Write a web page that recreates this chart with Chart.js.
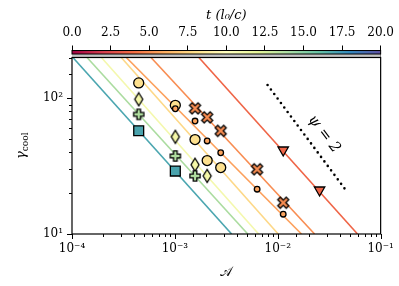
<!DOCTYPE html>
<html>
<head>
<meta charset="utf-8">
<script src="https://cdn.jsdelivr.net/npm/chart.js@4.4.1/dist/chart.umd.min.js"></script>
<style>
  html, body { margin: 0; padding: 0; background: #fff; }
  #wrap { width: 399px; height: 286px; }
</style>
</head>
<body>
<div id="wrap"><canvas id="coolChart" width="399" height="286"></canvas></div>
<script>
// colour bar ticks (time) and axis decades
const tTicks = [0, 2.5, 5, 7.5, 10, 12.5, 15, 17.5, 20];
const xDecades = [1e-4, 1e-3, 1e-2, 1e-1];
const yDecades = [10, 100];

// guide lines: A where each line meets gamma = 200 (top) and gamma = 10 (bottom)
const lineGamma = [200, 10];
const lineTeal   = [1.02e-4, 3.56e-3];
const lineGreen  = [1.40e-4, 5.11e-3];
const linePale   = [1.93e-4, 6.52e-3];
const lineYellow = [3.01e-4, 1.01e-2];
const lineOrangeA = [3.37e-4, 1.70e-2];
const lineOrangeB = [5.86e-4, 2.28e-2];
const lineRed    = [1.71e-3, 5.96e-2];

// psi = 2 reference
const psiA = [7.96e-3, 4.53e-2];
const psiG = [125.4, 21.3];

// simulation points
const squareA = [4.45e-4, 1.01e-3];
const squareG = [57.7, 29.1];
const plusA = [4.45e-4, 1.01e-3, 1.57e-3];
const plusG = [76.2, 37.6, 26.8];
const diamondA = [4.45e-4, 1.01e-3, 1.57e-3, 2.06e-3];
const diamondG = [98.4, 52.1, 32.4, 26.8];
const bigCircA = [4.45e-4, 1.01e-3, 1.57e-3, 2.06e-3, 2.79e-3];
const bigCircG = [130, 88.8, 49.7, 34.8, 30.9];
const smallCircA = [1.01e-3, 1.57e-3, 2.06e-3, 2.79e-3, 6.3e-3, 1.13e-2];
const smallCircG = [83.8, 68.0, 48.5, 39.7, 21.4, 14.0];
const xMarkA = [1.57e-3, 2.06e-3, 2.79e-3, 6.3e-3, 1.13e-2];
const xMarkG = [84.4, 72.4, 57.6, 30.0, 17.0];
const triA = [1.13e-2, 2.55e-2];
const triG = [41.6, 21.1];

const SERIF = "'DejaVu Serif', serif";
const spectral = ['#9e0142', '#d53e4f', '#f46d43', '#fdae61', '#fee08b', '#ffffbf',
                  '#e6f598', '#abdda4', '#66c2a5', '#3288bd', '#5e4fa2'];

function pts(xs, ys) {
    return xs.map((x, i) => ({ x: x, y: ys[i] }));
}

function sup(n) {
    const m = { '-': '\u207b', '0': '\u2070', '1': '\u00b9', '2': '\u00b2', '3': '\u00b3',
                '4': '\u2074', '5': '\u2075', '6': '\u2076', '7': '\u2077', '8': '\u2078', '9': '\u2079' };
    return String(n).split('').map(ch => m[ch]).join('');
}

function isDecade(v) {
    const l = Math.log10(v);
    return Math.abs(l - Math.round(l)) < 1e-6;
}

// custom marker shapes (matplotlib P, X, d)
function markerCanvas(size, fill, pathFn) {
    const c = document.createElement('canvas');
    c.width = size; c.height = size;
    const ctx = c.getContext('2d');
    ctx.translate(size / 2, size / 2);
    ctx.beginPath();
    pathFn(ctx);
    ctx.closePath();
    ctx.fillStyle = fill;
    ctx.fill();
    ctx.lineWidth = 1.3;
    ctx.strokeStyle = '#000';
    ctx.stroke();
    return c;
}

function plusPath(s, a, rot) {
    return function(ctx) {
        ctx.rotate(rot);
        const p = [[-a, -s], [a, -s], [a, -a], [s, -a], [s, a], [a, a], [a, s], [-a, s], [-a, a], [-s, a], [-s, -a], [-a, -a]];
        p.forEach((q, i) => i ? ctx.lineTo(q[0], q[1]) : ctx.moveTo(q[0], q[1]));
    };
}

const plusImg = markerCanvas(14, '#b0dea0', plusPath(5.1, 1.8, 0));
const xImg = markerCanvas(15, '#f88d52', plusPath(6.0, 1.8, Math.PI / 4));
const diamondImg = markerCanvas(16, '#f5f7a8', function(ctx) {
    ctx.moveTo(0, -6.5); ctx.lineTo(4, 0); ctx.lineTo(0, 6.5); ctx.lineTo(-4, 0);
});

function guide(data, color) {
    return {
        data: pts(data, lineGamma), showLine: true, borderColor: color, borderWidth: 1.6,
        pointRadius: 0, order: 5
    };
}

function markers(xs, ys, style, fill, r, order) {
    return {
        data: pts(xs, ys), showLine: false, pointStyle: style, pointRadius: r,
        pointBackgroundColor: fill, pointBorderColor: '#000', pointBorderWidth: 1.3,
        order: order
    };
}

const extras = {
    id: 'extras',
    afterDraw(chart) {
        const ctx = chart.ctx;
        const a = chart.chartArea;
        const sx = chart.scales.x, sy = chart.scales.y;
        ctx.save();
        ctx.strokeStyle = '#000';
        ctx.lineWidth = 1;
        // minor / major ticks
        sx.ticks.forEach(t => {
            const px = Math.round(sx.getPixelForValue(t.value)) + 0.5;
            const len = isDecade(t.value) ? 5 : 3;
            ctx.beginPath(); ctx.moveTo(px, a.bottom); ctx.lineTo(px, a.bottom + len); ctx.stroke();
        });
        sy.ticks.forEach(t => {
            const py = Math.round(sy.getPixelForValue(t.value)) + 0.5;
            const len = isDecade(t.value) ? 5 : 3;
            ctx.beginPath(); ctx.moveTo(a.left, py); ctx.lineTo(a.left - len, py); ctx.stroke();
        });
        // colour bar
        const g = ctx.createLinearGradient(a.left, 0, a.right, 0);
        spectral.forEach((c, i) => g.addColorStop(i / (spectral.length - 1), c));
        ctx.fillStyle = '#c4c4c4';
        ctx.fillRect(a.left, 50.5, a.right - a.left, 6.5);
        ctx.fillStyle = g;
        ctx.fillRect(a.left, 50.5, a.right - a.left, 3.5);
        ctx.strokeRect(a.left, 50.5, a.right - a.left, 3.5);
        // frame
        ctx.lineWidth = 1.2;
        ctx.strokeRect(a.left, a.top, a.right - a.left, a.bottom - a.top);
        // y label
        ctx.fillStyle = '#000';
        ctx.translate(25, (a.top + a.bottom) / 2);
        ctx.rotate(-Math.PI / 2);
        ctx.font = 'italic 13px ' + SERIF;
        const wg = ctx.measureText('\u03b3').width;
        ctx.font = '9px ' + SERIF;
        const wc = ctx.measureText('cool').width;
        const x0 = -(wg + wc) / 2;
        ctx.textBaseline = 'alphabetic';
        ctx.font = 'italic 13px ' + SERIF;
        ctx.fillText('\u03b3', x0, 0);
        ctx.font = '9px ' + SERIF;
        ctx.fillText('cool', x0 + wg, 2.5);
        ctx.restore();
        // psi = 2 label
        ctx.save();
        ctx.translate(324, 134);
        ctx.rotate(53 * Math.PI / 180);
        ctx.fillStyle = '#000';
        ctx.textAlign = 'center';
        ctx.textBaseline = 'middle';
        ctx.font = 'italic 15px ' + SERIF;
        ctx.fillText('\u03c8 = 2', 0, 0);
        ctx.restore();
    }
};

new Chart(document.getElementById('coolChart'), {
    type: 'scatter',
    data: {
        datasets: [
            guide(lineTeal, '#4ba6b0'),
            guide(lineGreen, '#abdca0'),
            guide(linePale, '#f4f8ad'),
            guide(lineYellow, '#fdd888'),
            guide(lineOrangeA, '#fca05c'),
            guide(lineOrangeB, '#f88d52'),
            guide(lineRed, '#ef6547'),
            {
                data: pts(psiA, psiG), showLine: true, borderColor: '#000', borderWidth: 2.6,
                borderDash: [0, 5.6], borderCapStyle: 'round', pointRadius: 0, order: 5
            },
            markers(squareA, squareG, 'rect', '#4aa3ad', 7, 3),
            markers(plusA, plusG, plusImg, '#b0dea0', 6, 3),
            markers(diamondA, diamondG, diamondImg, '#f5f7a8', 6, 3),
            markers(bigCircA, bigCircG, 'circle', '#fde08e', 5, 2),
            markers(smallCircA, smallCircG, 'circle', '#fba35d', 2.8, 1),
            markers(xMarkA, xMarkG, xImg, '#f88d52', 6, 1),
            Object.assign(markers(triA, triG, 'triangle', '#ef6547', 6, 1), { rotation: 180 })
        ]
    },
    options: {
        responsive: false,
        animation: false,
        layout: { padding: { left: 0, right: 16, top: 0, bottom: 0 } },
        plugins: { legend: { display: false }, tooltip: { enabled: false } },
        scales: {
            x: {
                type: 'logarithmic', position: 'bottom', min: 1e-4, max: 1e-1,
                grid: { drawOnChartArea: false, tickLength: 5, tickColor: 'rgba(0,0,0,0)' },
                border: { display: false },
                ticks: {
                    autoSkip: false, maxRotation: 0, padding: 3, color: '#000',
                    font: { family: SERIF, size: 12 },
                    callback: v => (isDecade(v) && xDecades.some(d => Math.abs(d - v) / d < 1e-6)) ? '10' + sup(Math.round(Math.log10(v))) : ''
                },
                title: { display: true, text: '\ud835\udc9c', color: '#000', font: { family: SERIF, size: 13 }, padding: { top: 0, bottom: 6 } },
                afterFit: s => { s.height = 52; }
            },
            x2: {
                type: 'linear', position: 'top', min: 0, max: 20,
                afterBuildTicks: s => { s.ticks = tTicks.map(v => ({ value: v })); },
                grid: { drawOnChartArea: false, tickLength: 12, tickColor: '#000', tickWidth: 1 },
                border: { display: false },
                ticks: {
                    autoSkip: false, maxRotation: 0, padding: 5, color: '#000',
                    font: { family: SERIF, size: 12 },
                    callback: v => v.toFixed(1)
                },
                title: { display: true, text: 't (l\u2080/c)', color: '#000', font: { family: SERIF, size: 13, style: 'italic' }, padding: { top: 8, bottom: 0 } },
                afterFit: s => { s.height = 57.5; }
            },
            y: {
                type: 'logarithmic', min: 10, max: 200,
                grid: { drawOnChartArea: false, tickLength: 5, tickColor: 'rgba(0,0,0,0)' },
                border: { display: false },
                ticks: {
                    autoSkip: false, padding: 4, color: '#000',
                    font: { family: SERIF, size: 12 },
                    callback: v => (yDecades.some(d => Math.abs(d - v) / d < 1e-6)) ? '10' + sup(Math.round(Math.log10(v))) : ''
                },
                afterFit: s => { s.width = 72; }
            }
        }
    },
    plugins: [extras]
});
</script>
</body>
</html>
